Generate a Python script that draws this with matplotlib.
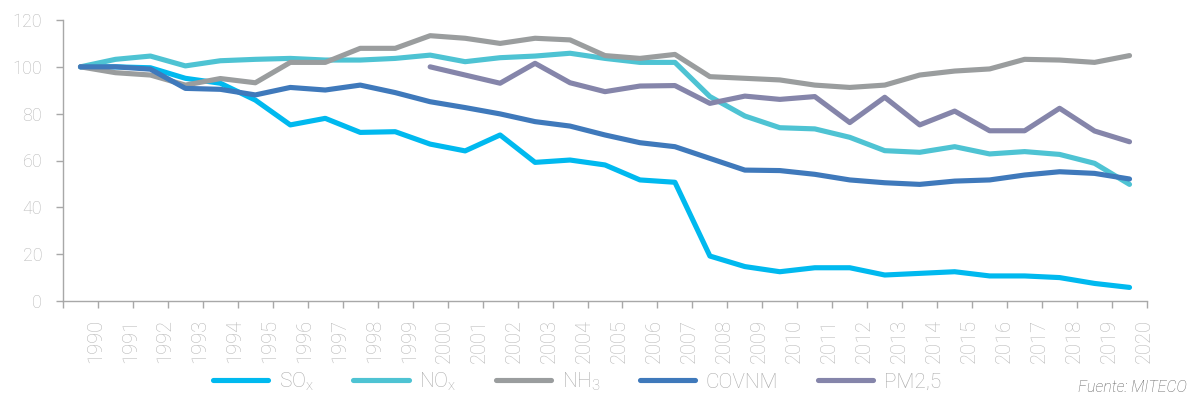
import numpy as np
import matplotlib
matplotlib.use("Agg")
import matplotlib.pyplot as plt

years = [str(y) for y in range(1990, 2021)]

sox = [100, 100, 99.6, 95.1, 93, 85.8, 75.2, 78, 72, 72.3, 67, 64.1, 70.9, 59.2, 60.2, 58.1,
       51.7, 50.7, 19.2, 14.7, 12.5, 14.2, 14.2, 11.1, 11.8, 12.5, 10.7, 10.7, 10, 7.5, 5.8]
nox = [100, 103.2, 104.6, 100.4, 102.6, 103.2, 103.6, 102.9, 102.9, 103.6, 105, 102.2, 103.9,
       104.6, 105.8, 103.6, 101.9, 101.9, 87.3, 79, 74, 73.5, 69.9, 64.2, 63.5, 65.9, 62.8,
       63.8, 62.6, 58.8, 49.8]
nh3 = [100, 97.5, 96.5, 92.2, 95, 93.2, 101.9, 101.9, 107.9, 107.9, 113.3, 112.2, 110, 112.2,
       111.5, 104.8, 103.6, 105.3, 95.8, 95.1, 94.4, 92.2, 91.2, 92.2, 96.5, 98.2, 99.1, 103.2,
       102.9, 101.9, 104.8]
covnm = [100, 100, 99, 90.8, 90.4, 88, 91.2, 90.1, 92.2, 89, 85.1, 82.6, 79.9, 76.6, 74.7, 70.9,
         67.6, 65.9, 60.9, 55.9, 55.7, 54.1, 51.7, 50.5, 49.8, 51.2, 51.7, 53.8, 55.2, 54.5, 52.1]
pm25 = [None] * 10 + [100, 96.5, 93, 101.5, 93.2, 89.4, 91.8, 92, 84.4, 87.5, 86.1, 87.3, 76.2,
                      87, 75.2, 81.1, 72.7, 72.7, 82.3, 72.6, 68]

labels = [r'SO$_{\mathregular{x}}$', r'NO$_{\mathregular{x}}$', r'NH$_{\mathregular{3}}$',
          'COVNM', 'PM2,5']
colors = ['#00B9EF', '#4EC3D3', '#9A9D9E', '#3F79BB', '#8585AA']
series = [sox, nox, nh3, covnm, pm25]

plt.rcParams['font.family'] = ['Roboto', 'DejaVu Sans']
plt.rcParams['font.weight'] = 'light'

fig = plt.figure(figsize=(11.87, 4.0), dpi=100)
ax = fig.add_axes([63 / 1187, 1 - 301 / 400, (1147 - 63) / 1187, (301 - 20) / 400])

x = np.arange(len(years))
handles = []
for vals, lab, col in zip(series, labels, colors):
    v = np.array([np.nan if a is None else a for a in vals], dtype=float)
    h, = ax.plot(x, v, color=col, lw=3.7, solid_capstyle='round', solid_joinstyle='round',
                 label=lab)
    handles.append(h)

ax.set_xlim(-0.5, len(years) - 0.5)
ax.set_ylim(0, 120)
ax.set_yticks(range(0, 121, 20))

grey = '#A8A8A8'
txt = '#B8B8B8'
for s in ['top', 'right']:
    ax.spines[s].set_visible(False)
for s in ['left', 'bottom']:
    ax.spines[s].set_color(grey)
    ax.spines[s].set_linewidth(1.0)

ax.set_xticks(np.arange(-0.5, len(years), 1))
ax.set_xticklabels([])
ax.set_xticks(x + 0.42, minor=True)
ax.set_xticklabels(years, minor=True, rotation=90, color=txt, fontsize=14.5,
                   fontweight='light')
ax.tick_params(axis='x', which='major', length=5, color=grey, width=1.0)
ax.tick_params(axis='x', which='minor', length=0, pad=13)
ax.tick_params(axis='y', length=5, color=grey, width=1.0, pad=10, labelsize=13,
               labelcolor=txt)
for t in ax.get_yticklabels():
    t.set_fontweight('light')

leg = fig.legend(handles=handles, loc='center', bbox_to_anchor=(577 / 1187, 1 - 382 / 400),
                 ncol=5, frameon=False, handlelength=2.65, columnspacing=1.9,
                 handletextpad=0.5, prop={'size': 15, 'weight': 'light'})
for t in leg.get_texts():
    t.set_color('#ABABAB')

fig.text(1.0, 1 - 388 / 400, 'Fuente: MITECO', ha='right', va='center', fontsize=11.5,
         style='italic', color='#606060', family=['Roboto', 'DejaVu Sans'])

fig.savefig('out.png', dpi=100)
